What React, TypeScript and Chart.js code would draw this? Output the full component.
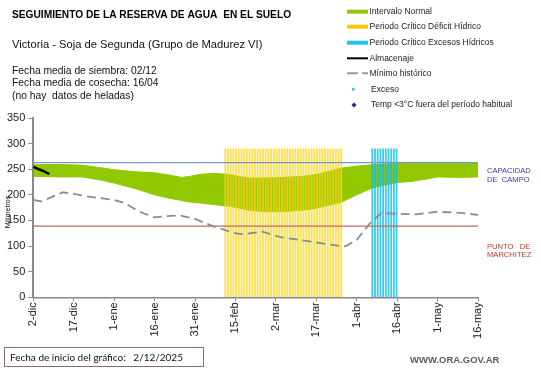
import React, { useEffect, useRef } from 'react';
import { Chart, registerables } from 'chart.js';

Chart.register(...registerables);

// ---- DATA ----
const tickLabels = ['2-dic', '17-dic', '1-ene', '16-ene', '31-ene', '15-feb', '2-mar', '17-mar', '1-abr', '16-abr', '1-may', '16-may'];

const bandDays = [0, 10, 18, 25, 30, 38, 45, 50, 55, 58, 62, 67, 72, 75, 80, 86, 92, 100, 105, 110, 114, 120, 126, 131, 135, 140, 145, 150, 158, 165];
const bandUpper = [259, 259, 258, 253, 249, 245, 243, 239, 234, 236, 240, 242, 240, 237, 233, 233, 234, 236, 240, 246, 252, 256, 259, 260, 261, 263, 263, 263, 263, 263];
const bandLower = [236, 235, 235, 229, 223, 212, 200, 194, 189, 186, 184, 181, 178, 176, 170, 167, 167, 170, 174, 180, 185, 200, 214, 220, 224, 226, 230, 235, 234, 235];

const minDays = [0, 3, 11, 15, 20, 30, 34, 39, 45, 51, 54, 60, 67, 75, 78, 85, 92, 99, 105, 114, 116, 120, 125, 129, 136, 142, 150, 158, 165];
const minValues = [190, 187, 205, 202, 197, 190, 184, 168, 156, 159, 160, 153, 138, 125, 123, 128, 117, 112, 107, 100, 100, 112, 145, 164, 163, 162, 167, 165, 161];

const storeDays = [0, 1, 2, 3, 4, 5, 6];
const storeValues = [255, 252, 250, 248, 246, 243, 241];

const deficitDays = [71, 72, 73, 74, 75, 76, 77, 78, 79, 80, 81, 82, 83, 84, 85, 86, 87, 88, 89, 90, 91, 92, 93, 94, 95, 96, 97, 98, 99, 100, 101, 102, 103, 104, 105, 106, 107, 108, 109, 110, 111, 112, 113, 114];
const excessDays = [126, 127, 128, 129, 130, 131, 132, 133, 134, 135];
const criticalHeight = 290;

const fieldCapacity = 263;
const wiltingPoint = 139;
const axisDays = [0, 165];

const pts = (xs: number[], ys: number[]) => xs.map((x, i) => ({ x, y: ys[i] }));

const FONT = '"Liberation Sans", Arial, sans-serif';

const textPlugin = {
  id: 'texts',
  afterDraw(chart: any) {
    const ctx = chart.ctx as CanvasRenderingContext2D;
    ctx.save();
    ctx.textBaseline = 'middle';
    ctx.textAlign = 'left';
    ctx.fillStyle = '#000';
    ctx.font = `bold 10.2px ${FONT}`;
    ctx.fillText('SEGUIMIENTO DE LA RESERVA DE AGUA  EN EL SUELO', 12, 15.5);
    ctx.font = `11.2px ${FONT}`;
    ctx.fillStyle = '#111';
    ctx.fillText('Victoria - Soja de Segunda (Grupo de Madurez VI)', 12, 44.5);
    ctx.font = `10.3px ${FONT}`;
    ctx.fillText('Fecha media de siembra: 02/12', 12, 71);
    ctx.fillText('Fecha media de cosecha: 16/04', 12, 83.5);
    ctx.fillText('(no hay  datos de heladas)', 12, 96);

    // legend
    const rows = [11.7, 26.7, 42.7, 58.3, 73.3, 89.3, 105];
    const names = ['Intervalo Normal', 'Periodo Crítico Déficit Hídrico', 'Periodo Crítico Excesos Hídricos', 'Almacenaje', 'Mínimo histórico', 'Exceso', 'Temp <3°C fuera del período habitual'];
    ctx.fillStyle = '#92c800';
    ctx.fillRect(347, rows[0] - 2, 21, 4);
    ctx.fillStyle = '#ffc800';
    ctx.fillRect(347, rows[1] - 2, 21, 4);
    ctx.fillStyle = '#22c4ee';
    ctx.fillRect(347, rows[2] - 2, 21, 4);
    ctx.strokeStyle = '#000';
    ctx.lineWidth = 2;
    ctx.beginPath();
    ctx.moveTo(347, rows[3]);
    ctx.lineTo(368, rows[3]);
    ctx.stroke();
    ctx.strokeStyle = '#999';
    ctx.beginPath();
    ctx.moveTo(347, rows[4]);
    ctx.lineTo(358, rows[4]);
    ctx.moveTo(362, rows[4]);
    ctx.lineTo(368, rows[4]);
    ctx.stroke();
    ctx.fillStyle = '#22c4ee';
    ctx.fillRect(352, rows[5] - 1.2, 2.5, 2.5);
    ctx.fillStyle = '#1c1ca8';
    ctx.beginPath();
    ctx.moveTo(354, rows[6] - 2.5);
    ctx.lineTo(356.5, rows[6]);
    ctx.lineTo(354, rows[6] + 2.5);
    ctx.lineTo(351.5, rows[6]);
    ctx.closePath();
    ctx.fill();
    ctx.fillStyle = '#222';
    ctx.font = `8.5px ${FONT}`;
    names.forEach((n, i) => ctx.fillText(n, i < 5 ? 369.5 : 371, rows[i]));

    // side labels
    ctx.font = `7.6px ${FONT}`;
    ctx.fillStyle = '#3a3aa8';
    ctx.fillText('CAPACIDAD', 487, 170.7);
    ctx.fillText('DE  CAMPO', 487, 179.5);
    ctx.fillStyle = '#c0392b';
    ctx.fillText('PUNTO   DE', 487, 246.7);
    ctx.fillText('MARCHITEZ', 487, 255.3);

    // y-axis title
    ctx.save();
    ctx.translate(8, 212);
    ctx.rotate(-Math.PI / 2);
    ctx.textAlign = 'center';
    ctx.font = `7px ${FONT}`;
    ctx.fillStyle = '#111';
    ctx.fillText('Milímetros', 0, 0);
    ctx.restore();

    // bottom box
    ctx.strokeStyle = '#8a6e6e';
    ctx.lineWidth = 1;
    ctx.strokeRect(4.5, 347.5, 199, 19);
    ctx.font = `10px Lato, ${FONT}`;
    ctx.fillStyle = '#111';
    ctx.fillText('Fecha de inicio del gráfico:   2/12/2025', 10, 357.5);

    ctx.font = `bold 9.5px ${FONT}`;
    ctx.fillStyle = '#5a5a5a';
    ctx.fillText('WWW.ORA.GOV.AR', 410, 360);
    ctx.restore();
  },
};

export default function App() {
  const ref = useRef<HTMLCanvasElement | null>(null);
  useEffect(() => {
    document.body.style.margin = '0';
    const canvas = ref.current!;
    const chart = new Chart(canvas, {
      type: 'line',
      data: {
        datasets: [
          {
            type: 'line',
            data: pts(storeDays, storeValues),
            borderColor: '#000',
            borderWidth: 2.5,
            pointRadius: 0,
            order: 0,
          },
          {
            type: 'line',
            data: pts(minDays, minValues),
            borderColor: '#8c8c8c',
            borderWidth: 1.8,
            borderDash: [9, 5],
            pointRadius: 0,
            order: 1,
          },
          {
            type: 'line',
            data: pts(axisDays, [fieldCapacity, fieldCapacity]),
            borderColor: '#7b96cc',
            borderWidth: 1.2,
            pointRadius: 0,
            order: 2,
          },
          {
            type: 'line',
            data: pts(axisDays, [wiltingPoint, wiltingPoint]),
            borderColor: '#c06868',
            borderWidth: 1.2,
            pointRadius: 0,
            order: 2,
          },
          {
            type: 'bar',
            data: excessDays.map((d) => ({ x: d, y: criticalHeight })),
            backgroundColor: 'rgba(20,188,228,0.8)',
            barThickness: 1.2,
            order: 3,
          },
          {
            type: 'bar',
            data: deficitDays.map((d) => ({ x: d, y: criticalHeight })),
            backgroundColor: 'rgba(248,212,30,0.72)',
            barThickness: 1.3,
            order: 3,
          },
          {
            type: 'line',
            data: pts(bandDays, bandUpper),
            borderColor: '#92c800',
            borderWidth: 1,
            backgroundColor: '#92c800',
            pointRadius: 0,
            fill: '+1',
            order: 5,
          },
          {
            type: 'line',
            data: pts(bandDays, bandLower),
            borderColor: '#92c800',
            borderWidth: 1,
            pointRadius: 0,
            fill: false,
            order: 5,
          },
        ],
      },
      options: {
        responsive: false,
        animation: false,
        devicePixelRatio: 1,
        layout: { padding: { left: 0, top: 118, right: 63, bottom: 0 } },
        plugins: { legend: { display: false }, tooltip: { enabled: false } },
        scales: {
          x: {
            type: 'linear',
            min: 0,
            max: 165,
            offset: false,
            afterFit: (s: any) => { s.height = 70.7; },
            grid: { display: true, drawOnChartArea: false, offset: false, tickLength: 4, color: '#888', lineWidth: 1 },
            border: { color: '#888', width: 1.5 },
            ticks: {
              stepSize: 15,
              autoSkip: false,
              minRotation: 90,
              maxRotation: 90,
              padding: 1,
              color: '#222',
              font: { family: FONT, size: 11 },
              callback: (v: any) => tickLabels[Math.round(Number(v) / 15)] ?? '',
            },
          },
          y: {
            min: 0,
            max: 350,
            afterFit: (s: any) => { s.width = 33.3; },
            grid: { display: true, drawOnChartArea: false, tickLength: 5, color: '#888' },
            border: { color: '#888', width: 2 },
            ticks: { stepSize: 50, padding: 3, color: '#222', font: { family: FONT, size: 11 } },
          },
        },
      },
      plugins: [textPlugin],
    } as any);
    return () => chart.destroy();
  }, []);
  return (
    <div style={{ position: 'absolute', left: 0, top: 0, width: 541, height: 368, background: '#fff' }}>
      <canvas ref={ref} width={541} height={368} />
    </div>
  );
}
